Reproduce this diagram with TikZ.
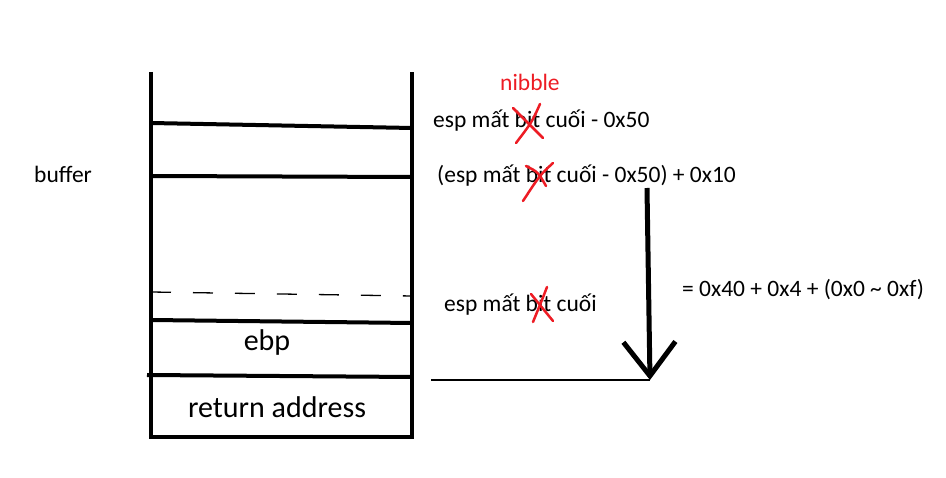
\documentclass[tikz,border=0pt]{standalone}
\usepackage{fontspec}
\setmainfont{Carlito}
\usetikzlibrary{arrows.meta}
\definecolor{paintred}{RGB}{237,28,36}

\begin{document}
\begin{tikzpicture}[x=1pt,y=-1pt,
    wall/.style={line width=4pt},
    lbl/.style={anchor=base west, inner sep=0pt, font=\fontsize{23.5}{28}\selectfont},
    big/.style={anchor=base, inner sep=0pt, font=\fontsize{30}{36}\selectfont},
    cross/.style={paintred, line width=2.5pt, line cap=round}]
        \useasboundingbox (0,0) rectangle (946,478);

        % Stack frame
        \coordinate (TL) at (151,72);
        \coordinate (TR) at (412,72);
        \coordinate (BL) at (151,437);
        \coordinate (BR) at (412,437);
        \draw[wall] (TL) -- (BL) -- (BR) -- (TR);

        % Slot borders
        \draw[wall] (151,123) -- (412,128);
        \draw[wall] (151,176) -- (412,177);
        \draw[line width=1.3pt, dash pattern=on 20pt off 22pt] (151,292) -- (412,296);
        \draw[wall] (151,320) -- (412,323);
        \draw[wall] (147,375) -- (412,377);

        % Labels inside the stack
        \node[big] (ebp) at (267,351) {ebp};
        \node[big] (ret) at (277,418) {return address};
        \node[lbl] (buffer) at (34,183) {buffer};

        % Labels on the right
        \node[lbl, text=paintred] (nibble) at (500,91) {nibble};
        \node[lbl] (espa) at (433,128) {esp mất bit cuối - 0x50};
        \node[lbl] (espb) at (437,183) {(esp mất bit cuối - 0x50) + 0x10};
        \node[lbl] (espc) at (444,312) {esp mất bit cuối};
        \node[lbl] (diff) at (682,297) {= 0x40 + 0x4 + (0x0 \textasciitilde{} 0xf)};

        % Red crosses over "bit"
        \draw[cross] (513,108) -- (543,138);
        \draw[cross] (540,104) .. controls (532,122) .. (516,143);
        \draw[cross] (526,166) .. controls (538,172) .. (546,186);
        \draw[cross] (553,163) .. controls (540,175) .. (523,201);
        \draw[cross] (531,294) -- (553,321);
        \draw[cross] (547,287) .. controls (542,300) .. (533,322);

        % Distance arrow
        \coordinate (arrtop) at (647,188);
        \coordinate (arrtip) at (650,380);
        \coordinate (espline) at (431,380);
        \draw[line width=5pt, -{Straight Barb[length=34pt,width=52pt]}] (arrtop) -- (arrtip);
        \draw[line width=1.3pt] (espline) -- (arrtip);
\end{tikzpicture}
\end{document}
